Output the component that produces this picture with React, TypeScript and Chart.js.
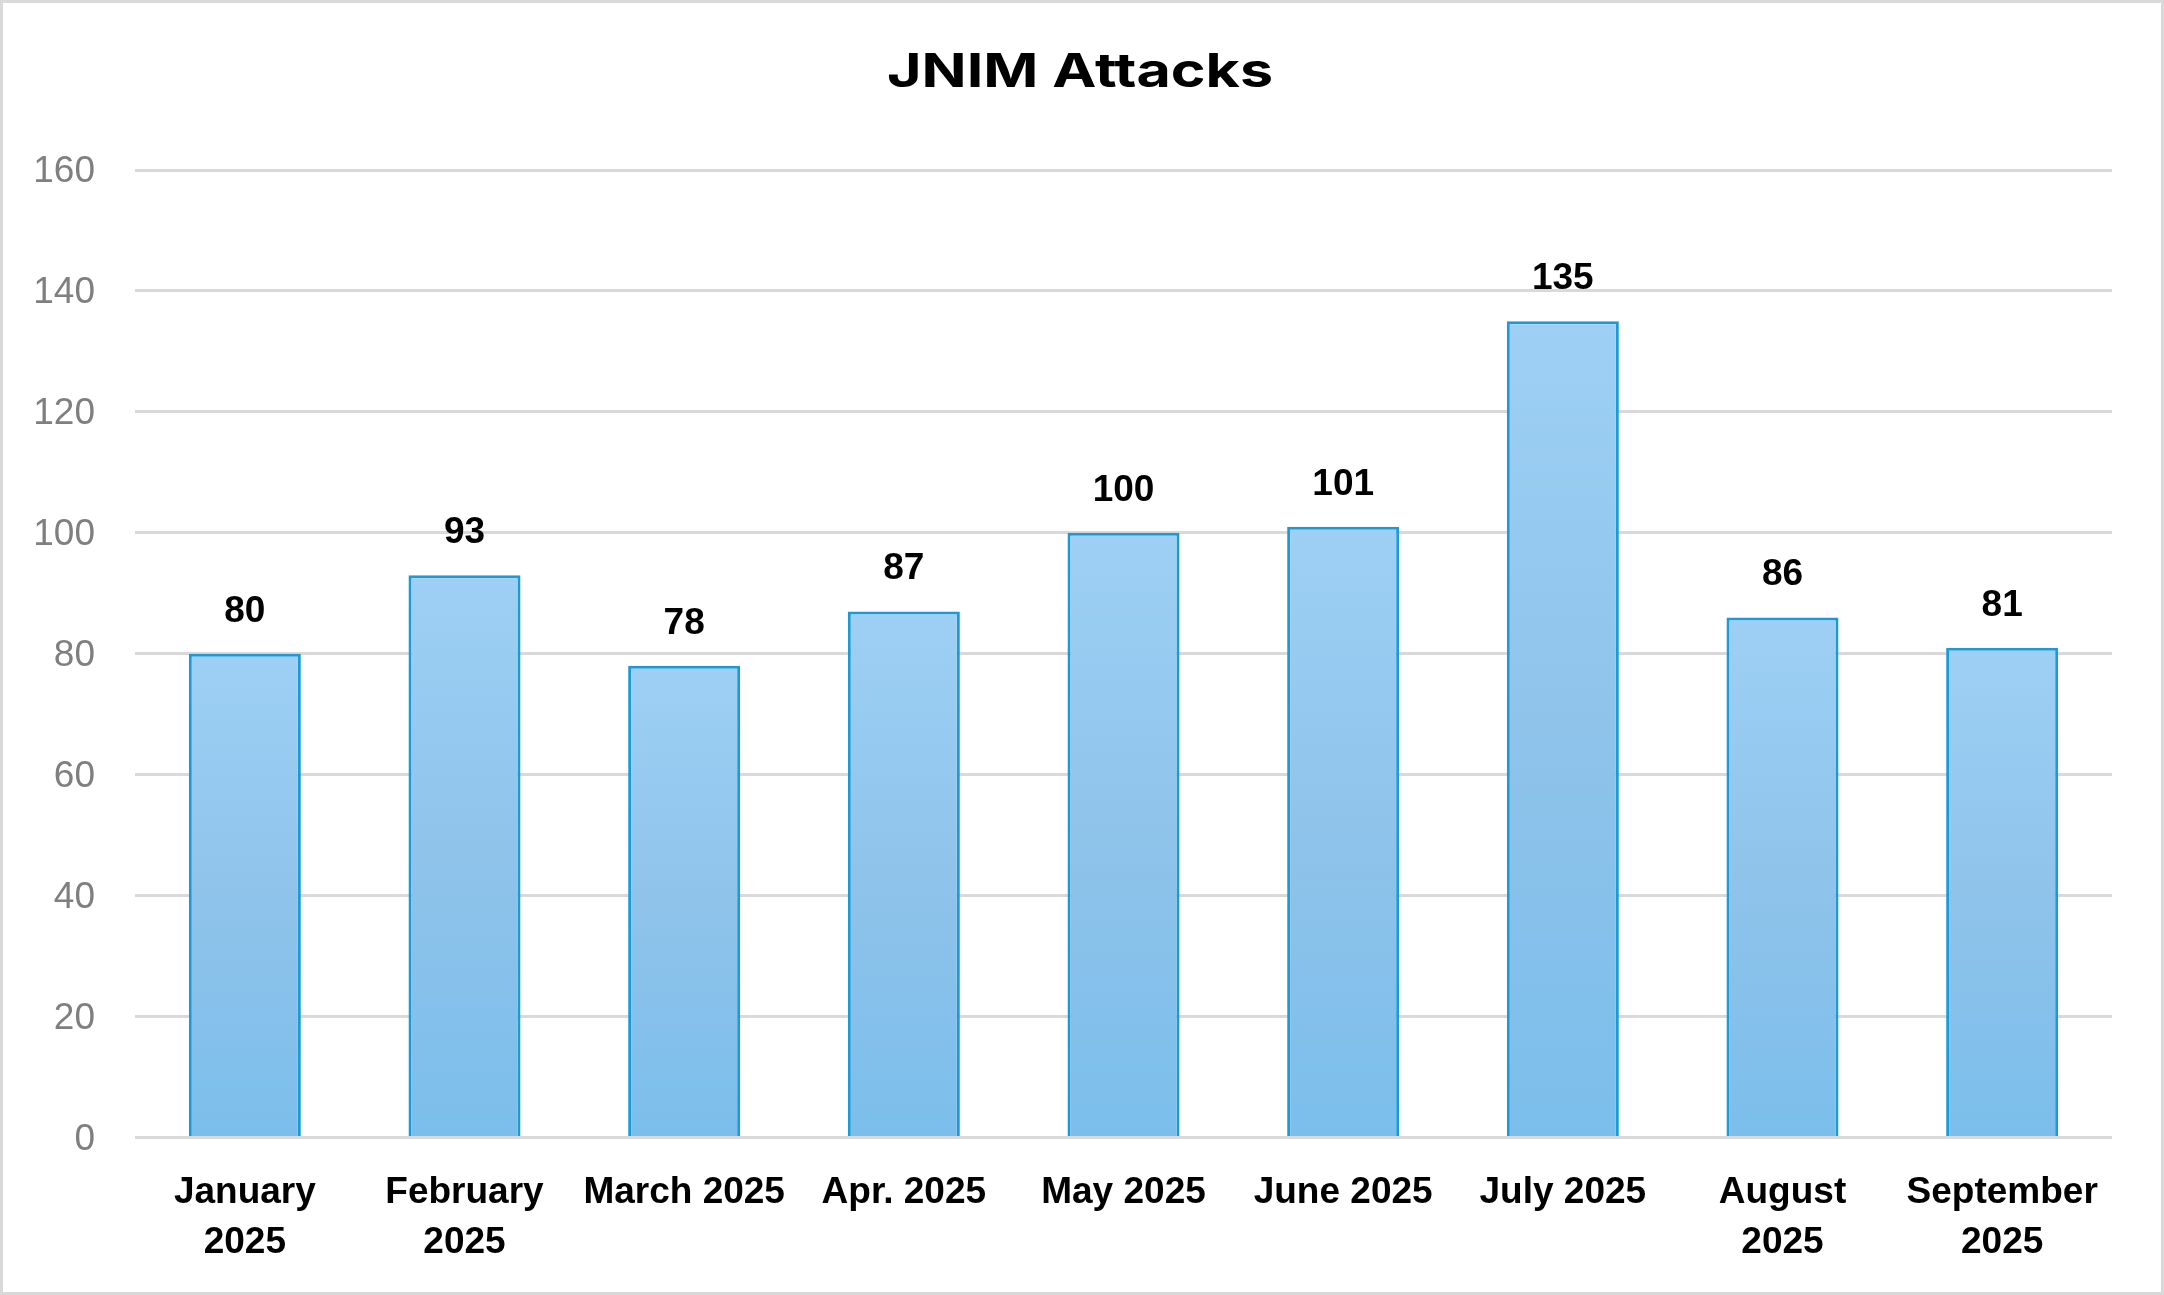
import React, { useEffect, useRef } from "react";
import { Chart, registerables } from "chart.js";

Chart.register(...registerables);

const TITLE = "JNIM Attacks";
const categories: (string | string[])[] = [
  ["January", "2025"],
  ["February", "2025"],
  "March 2025",
  "Apr. 2025",
  "May 2025",
  "June 2025",
  "July 2025",
  ["August", "2025"],
  ["September", "2025"],
];
const attacks = [80, 93, 78, 87, 100, 101, 135, 86, 81];
const yMin = 0;
const yMax = 160;
const yStep = 20;

const FONT = "'Liberation Sans', Arial, sans-serif";
const TITLE_FONT = "700 47px Inter, 'Liberation Sans', Arial, sans-serif";

const titlePlugin = {
  id: "stretchTitle",
  afterDraw(chart: any) {
    const ctx = chart.ctx;
    ctx.save();
    ctx.font = TITLE_FONT;
    ctx.fillStyle = "#000000";
    ctx.textBaseline = "alphabetic";
    ctx.textAlign = "left";
    const w = ctx.measureText(TITLE).width;
    const target = 386;
    const sx = target / w;
    const cx = chart.width / 2 - 2;
    ctx.translate(cx - target / 2, 87);
    ctx.scale(sx, 1);
    ctx.fillText(TITLE, 0, 0);
    ctx.restore();
  },
};

const dataLabelPlugin = {
  id: "dataLabels",
  afterDatasetsDraw(chart: any) {
    const ctx = chart.ctx;
    const meta = chart.getDatasetMeta(0);
    const data = chart.data.datasets[0].data;
    ctx.save();
    ctx.font = `bold 37px ${FONT}`;
    ctx.fillStyle = "#000000";
    ctx.textAlign = "center";
    ctx.textBaseline = "alphabetic";
    meta.data.forEach((bar: any, i: number) => {
      ctx.fillText(String(data[i]), bar.x, bar.y - 32);
    });
    ctx.restore();
  },
};

const framePlugin = {
  id: "frame",
  afterDraw(chart: any) {
    const ctx = chart.ctx;
    ctx.save();
    ctx.strokeStyle = "#d9d9d9";
    ctx.lineWidth = 3;
    ctx.strokeRect(1.5, 1.5, chart.width - 3, chart.height - 3);
    ctx.restore();
  },
};

export default function App() {
  const ref = useRef<HTMLCanvasElement | null>(null);

  useEffect(() => {
    if (!ref.current) return;
    const chart = new Chart(ref.current, {
      type: "bar",
      data: {
        labels: categories,
        datasets: [
          {
            label: TITLE,
            data: attacks,
            backgroundColor: (c: any) => {
              const ch = c.chart;
              if (!ch.chartArea || c.type !== "data") return "#8fc3ea";
              const ys = ch.scales.y;
              const top = ys.getPixelForValue(c.raw);
              const base = ys.getPixelForValue(0);
              if (!isFinite(top) || !isFinite(base) || top === base) return "#8fc3ea";
              const g = ch.ctx.createLinearGradient(0, top, 0, base);
              g.addColorStop(0, "#9ed0f5");
              g.addColorStop(0.5, "#8fc3ea");
              g.addColorStop(1, "#7bbeec");
              return g;
            },
            borderColor: "#1b9ad6",
            borderWidth: 3,
            borderSkipped: "start",
            barPercentage: 0.51,
            categoryPercentage: 1,
          },
        ],
      },
      options: {
        animation: false,
        responsive: true,
        maintainAspectRatio: false,
        layout: { padding: { top: 170, right: 52, bottom: 0, left: 0 } },
        plugins: {
          legend: { display: false },
          title: { display: false },
          tooltip: { enabled: false },
        },
        scales: {
          x: {
            grid: { display: false, drawTicks: false },
            border: { display: false },
            ticks: {
              color: "#000000",
              font: { family: FONT, size: 37, weight: "bold", lineHeight: 1.35 },
              padding: 30,
              maxRotation: 0,
              minRotation: 0,
              autoSkip: false,
            },
            afterFit: (s: any) => {
              s.height = 157.5;
            },
          },
          y: {
            min: yMin,
            max: yMax,
            ticks: {
              stepSize: yStep,
              color: "#7f7f7f",
              font: { family: FONT, size: 37 },
              padding: 40,
              labelOffset: 2,
            },
            grid: { color: "#d9d9d9", lineWidth: 3, drawTicks: false },
            border: { display: false },
            afterFit: (s: any) => {
              s.width = 135;
            },
          },
        },
      },
      plugins: [titlePlugin, dataLabelPlugin, framePlugin],
    });
    return () => chart.destroy();
  }, []);

  return (
    <div style={{ position: "absolute", left: 0, top: 0, width: 2164, height: 1295, background: "#ffffff" }}>
      <canvas ref={ref} />
    </div>
  );
}
